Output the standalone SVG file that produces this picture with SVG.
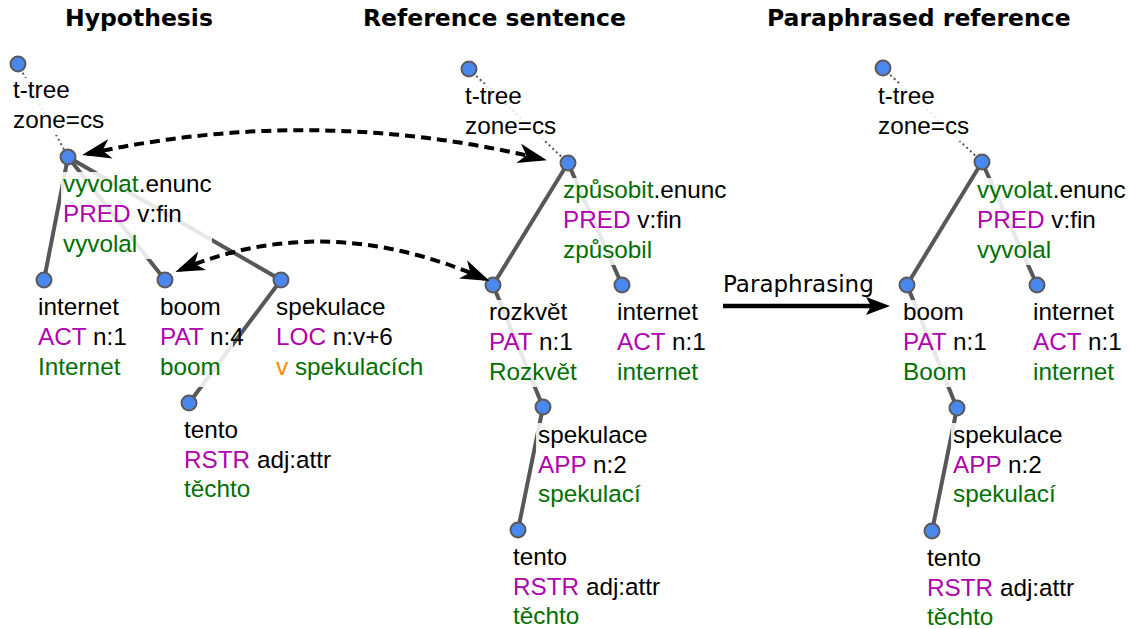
<svg xmlns="http://www.w3.org/2000/svg" width="1132" height="629" viewBox="0 0 1132 629">
<defs>
<style>
.title{font-family:"DejaVu Sans",sans-serif;font-weight:bold;font-size:23.5px;fill:#000}
.lbl{font-family:"Liberation Sans",Arial,sans-serif;font-size:24.3px;fill:#000}
.g{fill:#007000}
.f{fill:#b000b0}
.o{fill:#ff8c00}
.bx{fill:#fff;fill-opacity:0.86}
.edge{stroke:#575757;stroke-width:4;fill:none;stroke-linecap:butt}
.dot{stroke:#575757;stroke-width:2;stroke-dasharray:2 3;fill:none}
.node{fill:#4a88f0;stroke:#5a5a5a;stroke-width:2}
.align{stroke:#000;stroke-width:4;fill:none;stroke-dasharray:10 6}
</style>
<marker id="ah" viewBox="0 0 30 20" markerWidth="30" markerHeight="20" refX="24" refY="10" orient="auto-start-reverse" markerUnits="userSpaceOnUse">
<path d="M0,0 L29,10 L0,20 L8,10 z" fill="#000"/>
</marker>
</defs>
<rect width="1132" height="629" fill="#fff"/>

<g id="titles">
<text class="title" x="65" y="26">Hypothesis</text>
<text class="title" x="363" y="26">Reference sentence</text>
<text class="title" x="767" y="26">Paraphrased reference</text>
</g>

<g id="connectors">
<line class="dot" x1="18" y1="64" x2="68" y2="157"/>
<line class="edge" x1="68" y1="157" x2="44" y2="280"/>
<line class="edge" x1="68" y1="157" x2="165" y2="280"/>
<line class="edge" x1="68" y1="157" x2="281" y2="280"/>
<line class="edge" x1="281" y1="280" x2="189" y2="403"/>

<line class="dot" x1="469" y1="69" x2="568" y2="163"/>
<line class="edge" x1="568" y1="163" x2="493" y2="285"/>
<line class="edge" x1="568" y1="163" x2="622" y2="285"/>
<line class="edge" x1="493" y1="285" x2="543" y2="407"/>
<line class="edge" x1="543" y1="407" x2="518" y2="530"/>

<line class="dot" x1="883" y1="68" x2="982" y2="162"/>
<line class="edge" x1="982" y1="162" x2="907" y2="285"/>
<line class="edge" x1="982" y1="162" x2="1037" y2="285"/>
<line class="edge" x1="907" y1="285" x2="957" y2="408"/>
<line class="edge" x1="957" y1="408" x2="932" y2="531"/>
</g>

<!-- Hypothesis tree -->
<g id="h-root">
<rect class="bx" x="11" y="78" width="94" height="57"/>
<text class="lbl" x="13" y="98">t-tree</text>
<text class="lbl" x="13" y="128">zone=cs</text>
<circle class="node" cx="18" cy="64" r="7.5"/>
</g>
<g id="h-vyvolat">
<rect class="bx" x="61" y="172" width="151" height="87"/>
<text class="lbl" x="63" y="192"><tspan class="g">vyvolat</tspan>.enunc</text>
<text class="lbl" x="63" y="222"><tspan class="f">PRED</tspan> v:fin</text>
<text class="lbl g" x="63" y="252">vyvolal</text>
<circle class="node" cx="68" cy="157" r="7.5"/>
</g>
<g id="h-internet">
<rect class="bx" x="36" y="295" width="92" height="87"/>
<text class="lbl" x="38" y="315">internet</text>
<text class="lbl" x="38" y="345"><tspan class="f">ACT</tspan> n:1</text>
<text class="lbl g" x="38" y="375">Internet</text>
<circle class="node" cx="44" cy="280" r="7.5"/>
</g>
<g id="h-boom">
<rect class="bx" x="158" y="295" width="75" height="92"/>
<text class="lbl" x="160" y="315">boom</text>
<text class="lbl" x="160" y="345"><tspan class="f">PAT</tspan> n:4</text>
<text class="lbl g" x="160" y="375">boom</text>
<circle class="node" cx="165" cy="280" r="7.5"/>
</g>
<g id="h-spekulace">
<rect class="bx" x="274" y="295" width="149" height="87"/>
<text class="lbl" x="276" y="315">spekulace</text>
<text class="lbl" x="276" y="345"><tspan class="f">LOC</tspan> n:v+6</text>
<text class="lbl g" x="276" y="375"><tspan class="o">v</tspan> spekulacích</text>
<circle class="node" cx="281" cy="280" r="7.5"/>
</g>
<g id="h-tento">
<rect class="bx" x="182" y="418" width="149" height="87"/>
<text class="lbl" x="184" y="438">tento</text>
<text class="lbl" x="184" y="468"><tspan class="f">RSTR</tspan> adj:attr</text>
<text class="lbl g" x="184" y="497">těchto</text>
<circle class="node" cx="189" cy="403" r="7.5"/>
</g>

<!-- Reference tree -->
<g id="r-root">
<rect class="bx" x="463" y="84" width="94" height="57"/>
<text class="lbl" x="465" y="104">t-tree</text>
<text class="lbl" x="465" y="134">zone=cs</text>
<circle class="node" cx="469" cy="69" r="7.5"/>
</g>
<g id="r-zpusobit">
<rect class="bx" x="561" y="178" width="165" height="87"/>
<text class="lbl" x="563" y="198"><tspan class="g">způsobit</tspan>.enunc</text>
<text class="lbl" x="563" y="228"><tspan class="f">PRED</tspan> v:fin</text>
<text class="lbl g" x="563" y="258">způsobil</text>
<circle class="node" cx="568" cy="163" r="7.5"/>
</g>
<g id="r-rozkvet">
<rect class="bx" x="487" y="300" width="91" height="87"/>
<text class="lbl" x="489" y="320">rozkvět</text>
<text class="lbl" x="489" y="350"><tspan class="f">PAT</tspan> n:1</text>
<text class="lbl g" x="489" y="380">Rozkvět</text>
<circle class="node" cx="493" cy="285" r="7.5"/>
</g>
<g id="r-internet">
<rect class="bx" x="615" y="300" width="92" height="87"/>
<text class="lbl" x="617" y="320">internet</text>
<text class="lbl" x="617" y="350"><tspan class="f">ACT</tspan> n:1</text>
<text class="lbl g" x="617" y="380">internet</text>
<circle class="node" cx="622" cy="285" r="7.5"/>
</g>
<g id="r-spekulace">
<rect class="bx" x="536" y="423" width="112" height="87"/>
<text class="lbl" x="538" y="443">spekulace</text>
<text class="lbl" x="538" y="473"><tspan class="f">APP</tspan> n:2</text>
<text class="lbl g" x="538" y="502">spekulací</text>
<circle class="node" cx="543" cy="407" r="7.5"/>
</g>
<g id="r-tento">
<rect class="bx" x="511" y="545" width="149" height="87"/>
<text class="lbl" x="513" y="565">tento</text>
<text class="lbl" x="513" y="595"><tspan class="f">RSTR</tspan> adj:attr</text>
<text class="lbl g" x="513" y="624">těchto</text>
<circle class="node" cx="518" cy="530" r="7.5"/>
</g>

<!-- Paraphrased tree -->
<g id="p-root">
<rect class="bx" x="876" y="84" width="94" height="57"/>
<text class="lbl" x="878" y="104">t-tree</text>
<text class="lbl" x="878" y="134">zone=cs</text>
<circle class="node" cx="883" cy="68" r="7.5"/>
</g>
<g id="p-vyvolat">
<rect class="bx" x="975" y="178" width="151" height="87"/>
<text class="lbl" x="977" y="198"><tspan class="g">vyvolat</tspan>.enunc</text>
<text class="lbl" x="977" y="228"><tspan class="f">PRED</tspan> v:fin</text>
<text class="lbl g" x="977" y="258">vyvolal</text>
<circle class="node" cx="982" cy="162" r="7.5"/>
</g>
<g id="p-boom">
<rect class="bx" x="901" y="300" width="91" height="87"/>
<text class="lbl" x="903" y="320">boom</text>
<text class="lbl" x="903" y="350"><tspan class="f">PAT</tspan> n:1</text>
<text class="lbl g" x="903" y="380">Boom</text>
<circle class="node" cx="907" cy="285" r="7.5"/>
</g>
<g id="p-internet">
<rect class="bx" x="1031" y="300" width="92" height="87"/>
<text class="lbl" x="1033" y="320">internet</text>
<text class="lbl" x="1033" y="350"><tspan class="f">ACT</tspan> n:1</text>
<text class="lbl g" x="1033" y="380">internet</text>
<circle class="node" cx="1037" cy="285" r="7.5"/>
</g>
<g id="p-spekulace">
<rect class="bx" x="951" y="423" width="112" height="87"/>
<text class="lbl" x="953" y="443">spekulace</text>
<text class="lbl" x="953" y="473"><tspan class="f">APP</tspan> n:2</text>
<text class="lbl g" x="953" y="502">spekulací</text>
<circle class="node" cx="957" cy="408" r="7.5"/>
</g>
<g id="p-tento">
<rect class="bx" x="925" y="546" width="149" height="87"/>
<text class="lbl" x="927" y="566">tento</text>
<text class="lbl" x="927" y="596"><tspan class="f">RSTR</tspan> adj:attr</text>
<text class="lbl g" x="927" y="625">těchto</text>
<circle class="node" cx="932" cy="531" r="7.5"/>
</g>

<g id="alignment-links">
<path class="align" d="M87,154 Q314,104 542,159" marker-start="url(#ah)" marker-end="url(#ah)"/>
<path class="align" d="M180,270 Q325,209 485,279" marker-start="url(#ah)" marker-end="url(#ah)"/>
</g>

<g id="paraphrasing">
<text x="723" y="292" style="font-family:'DejaVu Sans',sans-serif;font-size:23px;fill:#000">Paraphrasing</text>
<line x1="723" y1="306" x2="872" y2="306" stroke="#000" stroke-width="4.5"/>
<path d="M890,306 L866,297 L871,306 L866,315 z" fill="#000"/>
</g>
</svg>
